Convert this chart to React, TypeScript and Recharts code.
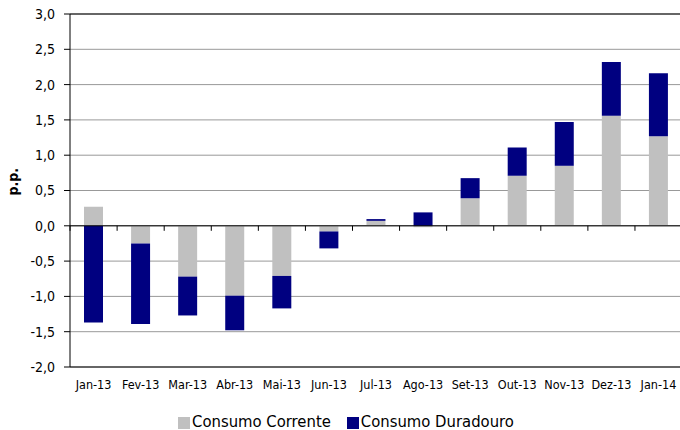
import { BarChart, Bar, XAxis, YAxis, CartesianGrid, Legend, ReferenceLine } from 'recharts';

// Monthly contributions (p.p.)
const MONTHS = ['Jan-13', 'Fev-13', 'Mar-13', 'Abr-13', 'Mai-13', 'Jun-13', 'Jul-13', 'Ago-13', 'Set-13', 'Out-13', 'Nov-13', 'Dez-13', 'Jan-14'];
const CORRENTE = [0.27, -0.25, -0.72, -0.99, -0.71, -0.08, 0.07, -0.02, 0.39, 0.71, 0.85, 1.56, 1.27];
const DURADOURO = [-1.37, -1.14, -0.55, -0.49, -0.46, -0.24, 0.025, 0.19, 0.285, 0.40, 0.62, 0.76, 0.89];
const Y_TICKS = [-2, -1.5, -1, -0.5, 0, 0.5, 1, 1.5, 2, 2.5, 3];

const data = MONTHS.map((month, i) => ({ month, corrente: CORRENTE[i], duradouro: DURADOURO[i] }));

const FONT = '"DejaVu Sans Condensed", "DejaVu Sans", sans-serif';
const TOP = 14;
const PLOT_H = 353;
const ZERO_Y = TOP + PLOT_H * 0.6;
const BAND = 47;

const fmt = (v: number) => v.toFixed(1).replace('.', ',');

// category label plus the little tick marks hanging under the zero line
function MonthTick(props: any) {
  const { x, y, payload, index } = props;
  const last = index === MONTHS.length - 1;
  return (
    <g>
      <line x1={x - BAND / 2} x2={x - BAND / 2} y1={ZERO_Y} y2={ZERO_Y + 5} stroke="#000" />
      {last && <line x1={x + BAND / 2} x2={x + BAND / 2} y1={ZERO_Y} y2={ZERO_Y + 5} stroke="#000" />}
      <text x={x} y={y + 14} textAnchor="middle" fontSize={12.5} fontFamily={FONT} fill="#000">
        {payload.value}
      </text>
    </g>
  );
}

export default function App() {
  return (
    <div style={{ position: 'absolute', left: 0, top: 0, background: '#fff' }}>
      <BarChart
        width={682}
        height={430}
        data={data}
        stackOffset="sign"
        margin={{ top: TOP, right: 0, left: 0, bottom: 0 }}
      >
        <CartesianGrid vertical={false} stroke="#999" />
        <XAxis
          dataKey="month"
          axisLine={{ stroke: '#000' }}
          tickLine={false}
          tick={<MonthTick />}
          interval={0}
          height={43}
        />
        <YAxis
          domain={[-2, 3]}
          ticks={Y_TICKS}
          tickFormatter={fmt}
          width={70}
          axisLine={{ stroke: '#000' }}
          tickLine={{ stroke: '#000' }}
          tickSize={6}
          tickMargin={9}
          tick={{ fontSize: 14, fontFamily: FONT, fill: '#000' }}
          label={{ value: 'p.p.', angle: -90, position: 'insideLeft', dx: 8, dy: 5, fontSize: 14, fontWeight: 'bold', fontFamily: FONT, fill: '#000' }}
          interval={0}
        />
        <ReferenceLine y={3} stroke="#000" />
        <Legend
          verticalAlign="bottom"
          align="center"
          iconType="square"
          iconSize={12}
          height={20}
          wrapperStyle={{ fontSize: 16.5, fontFamily: FONT, color: '#000', left: 10, top: 412 }}
          formatter={(v: string, _e: any, i: number) => (
            <span style={{ color: '#000', marginLeft: -2, marginRight: i === 0 ? 6 : 0 }}>{v}</span>
          )}
        />
        <Bar dataKey="corrente" name="Consumo Corrente" stackId="a" fill="#C0C0C0" barSize={19} isAnimationActive={false} />
        <Bar dataKey="duradouro" name="Consumo Duradouro" stackId="a" fill="#000080" barSize={19} isAnimationActive={false} />
        <ReferenceLine y={0} stroke="#000" />
      </BarChart>
    </div>
  );
}
